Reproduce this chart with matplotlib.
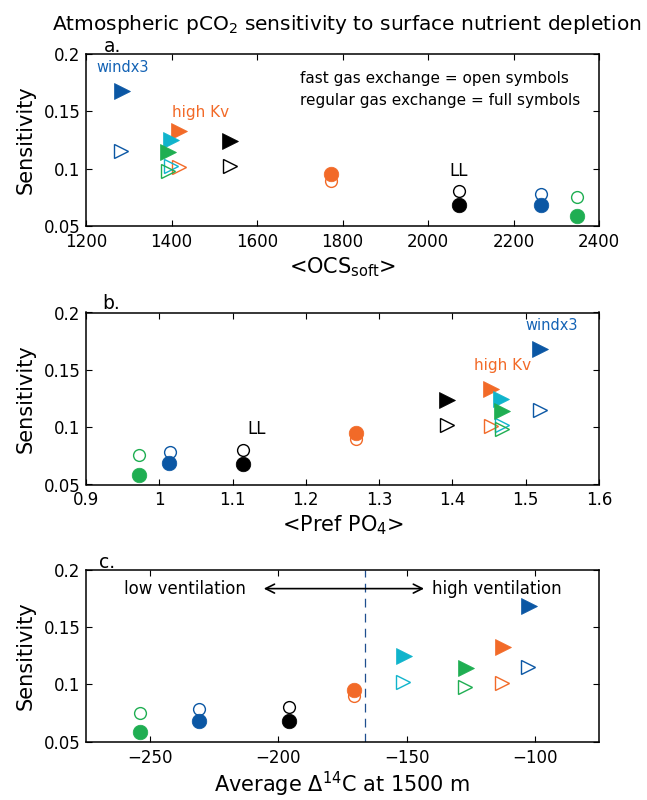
import numpy as np
import matplotlib
matplotlib.use('Agg')
import matplotlib.pyplot as plt

# model runs: 4 circle runs, 5 triangle runs
# full symbols = regular gas exchange, open symbols = fast gas exchange
run_colors = ['#1fae52', '#0b57a4', 'k', '#f26a28', 'k', '#f26a28', '#10b4cc', '#1fae52', '#0b57a4']
run_markers = ['o', 'o', 'o', 'o', '>', '>', '>', '>', '>']

sens_full = [0.0587, 0.0684, 0.0683, 0.0951, 0.1238, 0.1330, 0.1246, 0.1142, 0.1680]
sens_open = [0.0753, 0.0781, 0.0805, 0.0895, 0.1020, 0.1012, 0.1020, 0.0980, 0.1152]

ocs_full = [2349, 2265, 2072, 1772, 1536, 1418, 1398, 1392, 1284]
ocs_open = [2349, 2265, 2072, 1772, 1536, 1418, 1398, 1391, 1283]

po4_full = [0.972, 1.013, 1.1145, 1.268, 1.393, 1.453, 1.466, 1.467, 1.520]
po4_open = [0.972, 1.014, 1.1145, 1.268, 1.393, 1.452, 1.467, 1.467, 1.520]

# no radiocarbon value for the black triangle run
d14c_full = [-254, -231, -196, -170.5, np.nan, -112.4, -151.1, -127.0, -102.4]
d14c_open = [-254, -231, -196, -170.5, np.nan, -112.7, -151.6, -127.3, -102.7]

sens_ticks = [0.05, 0.1, 0.15, 0.2]
sens_ticklabels = ['0.05', '0.1', '0.15', '0.2']
ocs_ticks = [1200, 1400, 1600, 1800, 2000, 2200, 2400]
po4_ticks = [0.9, 1.0, 1.1, 1.2, 1.3, 1.4, 1.5, 1.6]
po4_ticklabels = ['0.9', '1', '1.1', '1.2', '1.3', '1.4', '1.5', '1.6']
d14c_ticks = [-250, -200, -150, -100]
vent_split = -166.2

plt.rcParams['font.family'] = 'DejaVu Sans'
plt.rcParams['mathtext.fontset'] = 'dejavusans'

fig = plt.figure(figsize=(6.47, 8.0), dpi=100)
W, H = 647.0, 800.0
left = 86 / W
width = 513 / W
axh = 172 / H
ax_a = fig.add_axes([left, 1 - 226 / H, width, axh])
ax_b = fig.add_axes([left, 1 - 484.5 / H, width, axh])
ax_c = fig.add_axes([left, 1 - 741.7 / H, width, axh])


def draw_runs(ax, xf, xo):
    # open symbols first, full symbols on top
    for i in range(len(run_colors)):
        if np.isnan(xo[i]):
            continue
        ms = 8.5 if run_markers[i] == 'o' else 9.5
        ax.plot(xo[i], sens_open[i], marker=run_markers[i], ms=ms, mfc='none',
                mec=run_colors[i], mew=1.0, ls='none', zorder=3)
    for i in range(len(run_colors)):
        if np.isnan(xf[i]):
            continue
        ms = 10.5 if run_markers[i] == 'o' else 11
        ax.plot(xf[i], sens_full[i], marker=run_markers[i], ms=ms, mfc=run_colors[i],
                mec=run_colors[i], mew=0.5, ls='none', zorder=4)


def style_axes(ax):
    ax.set_ylim(0.05, 0.2)
    ax.set_yticks(sens_ticks)
    ax.set_yticklabels(sens_ticklabels)
    ax.tick_params(direction='in', top=True, right=True, length=4, width=0.8,
                   labelsize=12)
    ax.tick_params(axis='x', pad=5)
    ax.tick_params(axis='y', pad=4)
    for s in ax.spines.values():
        s.set_linewidth(1.1)
    ax.set_ylabel('Sensitivity', fontsize=15, labelpad=6)


draw_runs(ax_a, ocs_full, ocs_open)
ax_a.set_xlim(1200, 2400)
ax_a.set_xticks(ocs_ticks)
style_axes(ax_a)
ax_a.set_xlabel('<OCS$_\\mathrm{soft}$>', fontsize=15, labelpad=3)
ax_a.text(1225, 0.188, 'windx3', color='#1463b5', fontsize=10.5, va='center')
ax_a.text(1401, 0.149, 'high Kv', color='#f26a28', fontsize=11, va='center')
ax_a.text(1701, 0.1784, 'fast gas exchange = open symbols', fontsize=11, va='center')
ax_a.text(1701, 0.1592, 'regular gas exchange = full symbols', fontsize=11, va='center')
ax_a.text(2072, 0.0983, 'LL', fontsize=12, ha='center', va='center')
ax_a.text(0.035, 1.044, 'a.', transform=ax_a.transAxes, fontsize=13.5, va='center')

draw_runs(ax_b, po4_full, po4_open)
ax_b.set_xlim(0.9, 1.6)
ax_b.set_xticks(po4_ticks)
ax_b.set_xticklabels(po4_ticklabels)
style_axes(ax_b)
ax_b.set_xlabel('<Pref PO$_4$>', fontsize=15, labelpad=3)
ax_b.text(1.4995, 0.189, 'windx3', color='#1463b5', fontsize=10.5, va='center')
ax_b.text(1.430, 0.154, 'high Kv', color='#f26a28', fontsize=11, va='center')
ax_b.text(1.120, 0.0986, 'LL', fontsize=12, va='center')
ax_b.text(0.031, 1.055, 'b.', transform=ax_b.transAxes, fontsize=13.5, va='center')

draw_runs(ax_c, d14c_full, d14c_open)
ax_c.set_xlim(-275, -75)
ax_c.set_xticks(d14c_ticks)
style_axes(ax_c)
ax_c.set_xlabel('Average $\\Delta^{14}$C at 1500 m', fontsize=15, labelpad=2)
ax_c.axvline(vent_split, color='#1f4f8f', lw=0.9, ls=(0, (7, 5)), zorder=1)
ax_c.annotate('', xy=(-205.7, 0.1835), xytext=(-143.2, 0.1835),
              arrowprops=dict(arrowstyle='<->', lw=1.2, color='k', mutation_scale=16,
                              shrinkA=0, shrinkB=0))
ax_c.text(-260, 0.1835, 'low ventilation', fontsize=12, va='center')
ax_c.text(-140.2, 0.1835, 'high ventilation', fontsize=12, va='center')
ax_c.text(0.026, 1.044, 'c.', transform=ax_c.transAxes, fontsize=13.5, va='center')

fig.text(346.5 / W, 1 - 30 / H, 'Atmospheric pCO$_2$ sensitivity to surface nutrient depletion',
         ha='center', va='baseline', fontsize=14.5)

fig.savefig('out.png', dpi=100)
